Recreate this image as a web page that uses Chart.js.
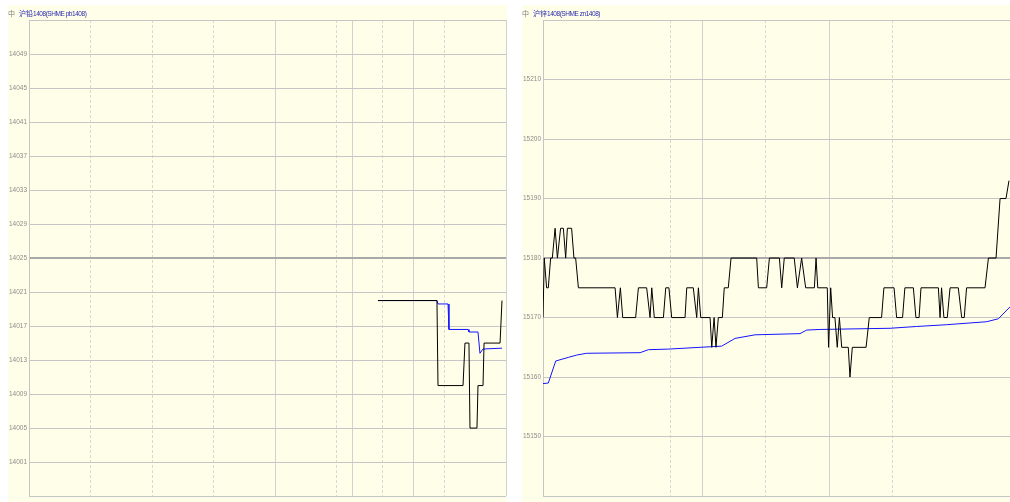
<!DOCTYPE html>
<html><head><meta charset="utf-8">
<script src="https://cdn.jsdelivr.net/npm/chart.js@4/dist/chart.umd.min.js"></script>
<style>
html,body{margin:0;padding:0;background:#fff;width:1010px;height:502px;overflow:hidden;}
.panel{position:absolute;top:5px;width:499px;height:497px;background:#FFFFE9;}
.panel canvas{position:absolute;left:0;top:0;}
.title{position:absolute;left:0;top:3px;font-size:7px;font-family:'Liberation Sans','Noto Sans CJK SC',sans-serif;color:#2b2bb0;white-space:nowrap;line-height:10px;}
.icon{color:#808080;margin-right:4px;font-family:'Noto Sans CJK SC',sans-serif;}
.cjk{font-family:'Noto Sans CJK SC',sans-serif;}
.lat{font-size:6.5px;letter-spacing:-0.45px;}
</style></head>
<body>
<div class="panel" style="left:8px"><canvas id="c1" width="499" height="497" style="width:499px;height:497px"></canvas><div class="title"><span class="icon">中</span><span class="cjk">沪铅</span><span class="lat">1408(SHME pb1408)</span></div></div>
<div class="panel" style="left:522px"><canvas id="c2" width="499" height="497" style="width:499px;height:497px"></canvas><div class="title"><span class="icon">中</span><span class="cjk">沪锌</span><span class="lat">1408(SHME zn1408)</span></div></div>
<script>
// ---- Left panel: 沪铅1408, minutes from 21:00 (night + day sessions, 465 min) ----
const leftGridSolid = [240, 315, 375, 465];
const leftGridDashed = [60, 120, 180, 300, 345, 405];
const leftYTicks = [13997,14001,14005,14009,14013,14017,14021,14025,14029,14033,14037,14041,14045,14049,14053];
const leftRef = 14025;
const leftPriceT = [340.2, 397.7, 398.7, 423.1, 425.0, 428.9, 429.9, 436.7, 437.7, 442.6, 443.6, 459.2, 461.1];
const leftPriceV = [14020, 14020, 14010, 14010, 14015, 14015, 14005, 14005, 14010, 14010, 14015, 14015, 14020];
const leftAvgT = [340.2, 397.7, 398.7, 408.5, 409.4, 428.0, 428.9, 437.7, 439.6, 442.6, 461.1];
const leftAvgV = [14020, 14020, 14019.6, 14019.6, 14016.6, 14016.6, 14016.3, 14016.3, 14013.8, 14014.3, 14014.4];

// ---- Right panel: 沪锌1408, minutes from 09:00 (day session, 225 min) ----
const rightGridSolid = [75, 135, 225];
const rightGridDashed = [60, 105, 165];
const rightYTicks = [15140,15150,15160,15170,15180,15190,15200,15210,15220];
const rightRef = 15180;
const rightPriceT = [0, 0.6, 1.7, 2.5, 3.6, 4.4, 5.7, 6.8, 8.3, 9.6, 10.7, 11.5, 13.5, 14.6, 15.4, 16.7,
  34.0, 35.1, 36.5, 37.6, 43.7, 45.0, 48.9, 50.5, 51.3, 52.5, 56.8, 57.9, 59.4, 60.7, 67.0, 67.8, 70.9,
  72.5, 73.3, 74.4, 78.8, 79.6, 80.7, 81.6, 82.7, 84.6, 85.5, 87.4, 88.7,
  100.8, 101.6, 105.5, 106.8, 111.5, 112.6, 113.8, 118.5, 120.0, 122.0, 123.9, 128.0, 128.8, 129.6, 134.1,
  134.7, 135.7, 136.6, 137.7, 138.8, 139.8, 140.9, 144.0, 144.8, 145.9, 152.4, 153.9, 159.7, 160.8, 165.6,
  166.8, 169.6, 170.7, 174.7, 175.9, 177.4, 178.3, 186.5, 187.3, 188.0, 189.1, 190.7, 192.0, 195.9, 197.5,
  198.7, 199.8, 208.5, 210.1, 213.7, 215.6, 218.4, 219.8];
const rightPriceV = [15170, 15180, 15175, 15175, 15180, 15180, 15185, 15180, 15185, 15185, 15180, 15185, 15185, 15180, 15180, 15175,
  15175, 15170, 15175, 15170, 15170, 15175, 15175, 15170, 15175, 15170, 15170, 15175, 15175, 15170, 15170, 15175, 15175,
  15170, 15175, 15170, 15170, 15165, 15170, 15165, 15170, 15170, 15175, 15175, 15180,
  15180, 15175, 15175, 15180, 15180, 15175, 15180, 15180, 15175, 15180, 15175, 15175, 15180, 15175, 15175,
  15165, 15175, 15170, 15170, 15165, 15170, 15165, 15165, 15160, 15165, 15165, 15170, 15170, 15175, 15175,
  15170, 15170, 15175, 15175, 15170, 15170, 15175, 15175, 15170, 15175, 15170, 15170, 15175, 15175, 15170,
  15170, 15175, 15175, 15180, 15180, 15190, 15190, 15193];
const rightAvgT = [0, 2.5, 6.0, 11.9, 15.9, 20.6, 45.8, 49.7, 59.1, 74.1, 84.3, 90.6, 100, 121.2, 124.4, 130.7, 163.7, 176.2, 190.4, 209.3, 214.8, 220.3];
const rightAvgV = [15158.9, 15159.0, 15162.7, 15163.3, 15163.7, 15164.0, 15164.1, 15164.6, 15164.7, 15165.0, 15165.2, 15166.5, 15167.1, 15167.3, 15167.9, 15168.0, 15168.2, 15168.5, 15168.8, 15169.3, 15169.8, 15171.8];

function pts(ts, vs){ return ts.map((t,i)=>({x:t, y:vs[i]})); }

function makeChart(id, xMax, gSolid, gDashed, yTicks, ref, priceT, priceV, avgT, avgV){
  const xTicks = gSolid.concat(gDashed).sort((a,b)=>a-b);
  return new Chart(document.getElementById(id), {
    type: 'line',
    data: { datasets: [
      { data: pts(priceT, priceV), borderColor: '#000000', borderWidth: 1, pointRadius: 0, tension: 0, fill: false },
      { data: pts(avgT, avgV), borderColor: '#1414ff', borderWidth: 1, pointRadius: 0, tension: 0, fill: false }
    ]},
    options: {
      responsive: false, animation: false, events: [],
      layout: { padding: { top: 15, right: 1, bottom: 1, left: 0 } },
      plugins: { legend: { display: false }, tooltip: { enabled: false }, title: { display: false } },
      scales: {
        x: {
          type: 'linear', min: 0, max: xMax,
          afterBuildTicks: s => { s.ticks = xTicks.map(v => ({ value: v })); },
          afterFit: s => { s.height = 0; },
          ticks: { display: false },
          grid: {
            drawTicks: false,
            color: c => gSolid.includes(c.tick && c.tick.value) ? '#d2d2cc' : '#d9d9d4',
            lineWidth: 1
          },
          border: { display: false, dash: c => (c.tick && gDashed.includes(c.tick.value)) ? [3, 2] : [] }
        },
        y: {
          type: 'linear', min: yTicks[0], max: yTicks[yTicks.length-1],
          afterBuildTicks: s => { s.ticks = yTicks.map(v => ({ value: v })); },
          afterFit: s => { s.width = 21; },
          ticks: {
            autoSkip: false, padding: 2, color: '#8c8c8c',
            font: { family: "'Liberation Sans',sans-serif", size: 6.5 },
            callback: (v, i, arr) => (i === 0 || i === arr.length - 1) ? '' : String(v)
          },
          grid: {
            drawTicks: false,
            color: c => (c.tick && c.tick.value === ref) ? '#a9a9a9' : '#c6c6c6',
            lineWidth: c => (c.tick && c.tick.value === ref) ? 2 : 1
          },
          border: { display: true, color: '#c6c6c6', width: 1 }
        }
      }
    }
  });
}

makeChart('c1', 465, leftGridSolid, leftGridDashed, leftYTicks, leftRef, leftPriceT, leftPriceV, leftAvgT, leftAvgV);
makeChart('c2', 225, rightGridSolid, rightGridDashed, rightYTicks, rightRef, rightPriceT, rightPriceV, rightAvgT, rightAvgV);
</script>
</body></html>
